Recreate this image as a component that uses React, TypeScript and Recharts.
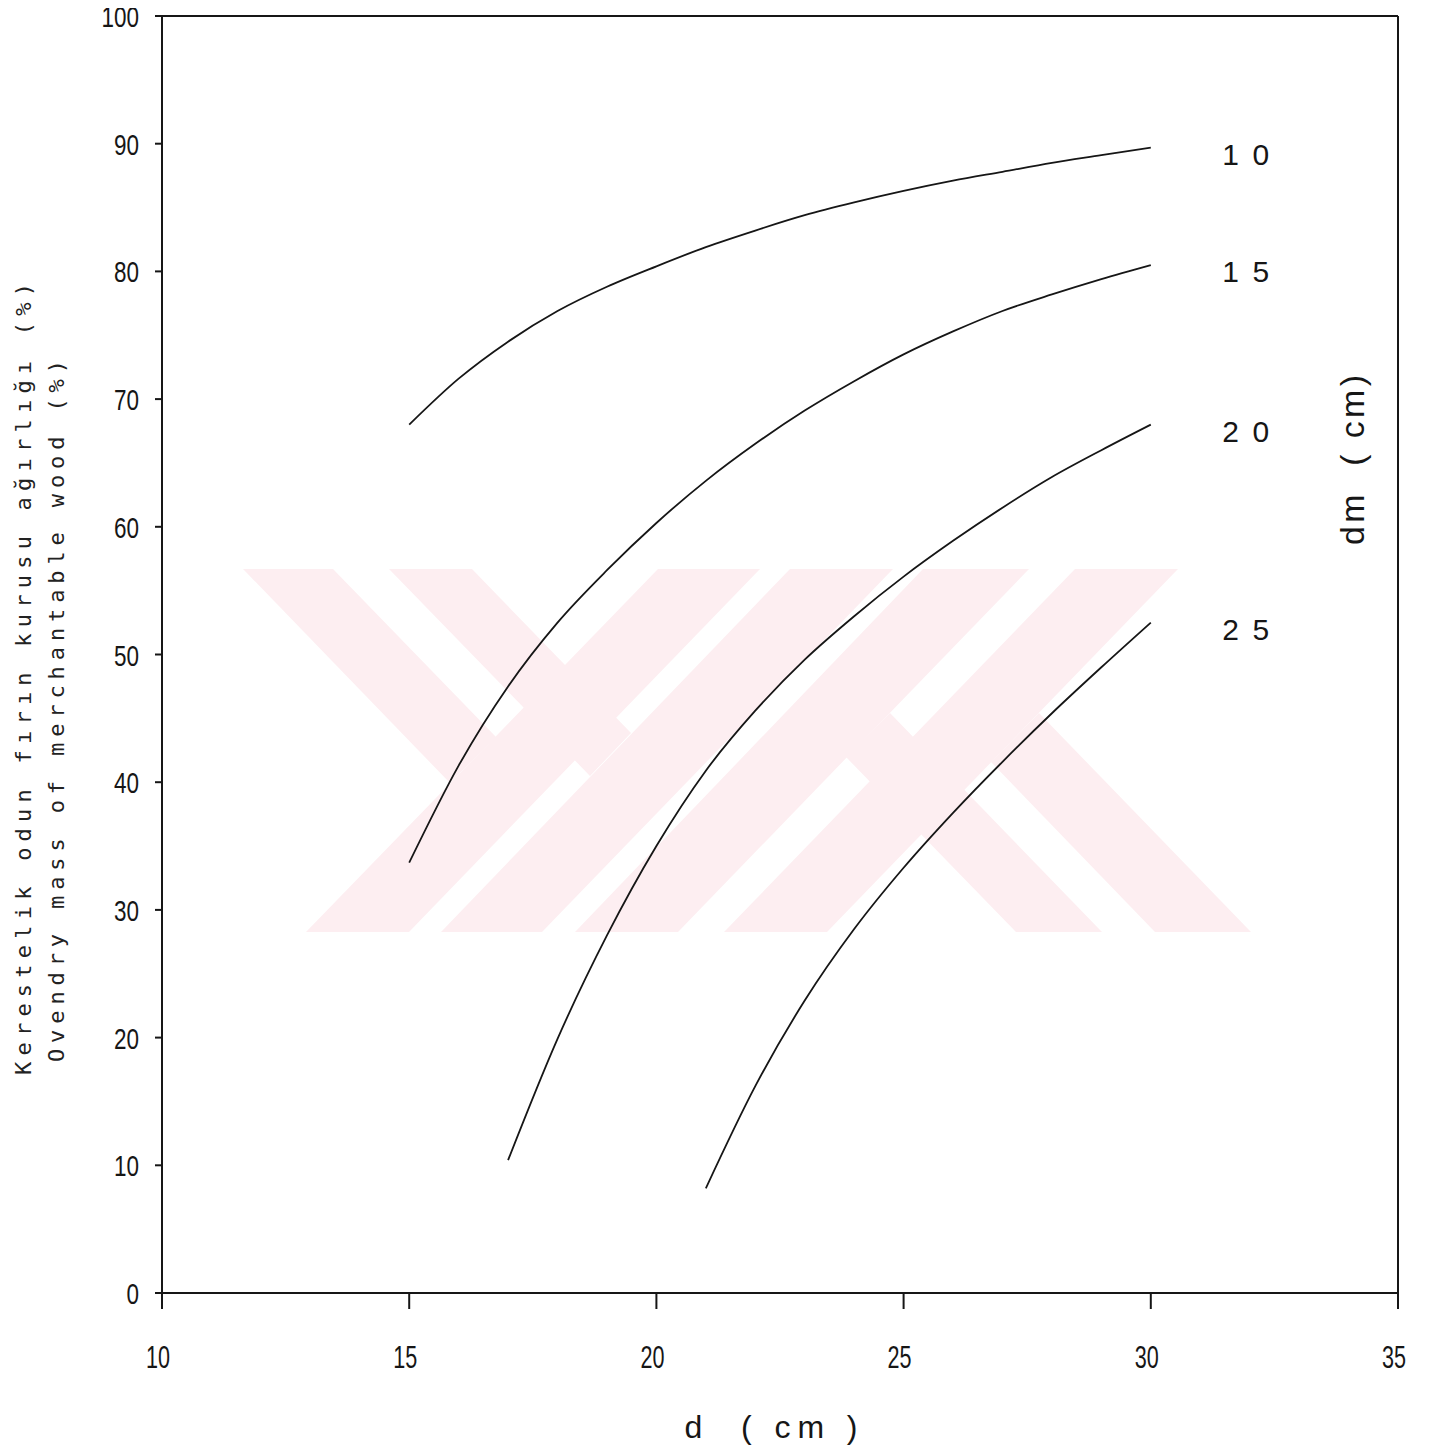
import { LineChart, Line, XAxis, YAxis, Label, LabelList } from 'recharts'

// dm (top diameter limit, cm) curves: oven-dry mass share (%) vs d (cm)
const dmNames = ['1 0', '1 5', '2 0', '2 5']

const d10 = [15, 16, 17, 18, 19, 20, 21, 22, 23, 24, 25, 26, 27, 28, 29, 30]
const mass10 = [68.0, 71.6, 74.5, 76.9, 78.8, 80.4, 81.9, 83.2, 84.4, 85.4, 86.3, 87.1, 87.8, 88.5, 89.1, 89.7]

const d15 = [15, 16, 17, 18, 19, 20, 21, 22, 23, 24, 25, 26, 27, 28, 29, 30]
const mass15 = [33.7, 41.3, 47.5, 52.5, 56.6, 60.3, 63.6, 66.5, 69.1, 71.4, 73.5, 75.3, 76.9, 78.2, 79.4, 80.5]

const d20 = [17, 18, 19, 20, 21, 22, 23, 24, 25, 26, 27, 28, 29, 30]
const mass20 = [10.4, 19.9, 28.0, 35.0, 40.9, 45.6, 49.6, 53.0, 56.1, 58.9, 61.5, 63.9, 66.0, 68.0]

const d25 = [21, 22, 23, 24, 25, 26, 27, 28, 29, 30]
const mass25 = [8.2, 16.2, 22.9, 28.5, 33.3, 37.6, 41.6, 45.4, 49.0, 52.5]

const xTicks = [10, 15, 20, 25, 30, 35]
const yTicks = [0, 10, 20, 30, 40, 50, 60, 70, 80, 90, 100]

const yTitle1 = 'Kerestelik odun fırın kurusu ağırlığı (%)'
const yTitle2 = 'Ovendry mass of merchantable wood (%)'
const xTitle = 'd  ( cm )'
const rightTitle = 'dm  ( cm)'

const zip = (xs: number[], ys: number[]) => xs.map((x, i) => ({ d: x, m: ys[i] }))

const series = [
  { name: dmNames[0], data: zip(d10, mass10) },
  { name: dmNames[1], data: zip(d15, mass15) },
  { name: dmNames[2], data: zip(d20, mass20) },
  { name: dmNames[3], data: zip(d25, mass25) },
]

const INK = '#161616'
const tickFont = '"Liberation Sans", Arial, sans-serif'

const XTick = ({ x, y, payload }: any) => {
  const s = String(payload.value)
  return (
    <text x={x - 4} y={y + 57} textAnchor="middle" fontFamily={tickFont} fontSize={31} fill={INK}
      textLength={s.length * 12} lengthAdjust="spacingAndGlyphs">
      {s}
    </text>
  )
}

const YTick = ({ x, y, payload }: any) => {
  const s = String(payload.value)
  return (
    <text x={x - 14} y={y + 11} textAnchor="end" fontFamily={tickFont} fontSize={30} fill={INK}
      textLength={s.length * 12.5} lengthAdjust="spacingAndGlyphs">
      {s}
    </text>
  )
}

const endLabel = (text: string, last: number) => (props: any) => {
  const { x, y, index } = props
  if (index !== last) return null
  return (
    <text x={x + 95} y={y + 17} textAnchor="middle" fontFamily={tickFont} fontSize={30} fill={INK}
      textLength={47} lengthAdjust="spacing">
      {text}
    </text>
  )
}

const LeftTitle = () => (
  <g fontFamily='"DejaVu Sans Mono", monospace' fontSize={22} fill="#222">
    <text transform="translate(31,1075) rotate(-90)" textLength={792} lengthAdjust="spacing">
      {yTitle1}
    </text>
    <text transform="translate(64,1062) rotate(-90)" textLength={702} lengthAdjust="spacing">
      {yTitle2}
    </text>
  </g>
)

const RightTitle = () => (
  <text transform="translate(1364,460) rotate(-90)" textAnchor="middle" fontFamily={tickFont}
    fontSize={34} fill={INK} textLength={170} lengthAdjust="spacing" style={{ whiteSpace: 'pre' }}>
    {rightTitle}
  </text>
)

const BottomTitle = () => (
  <text x={771} y={1438} textAnchor="middle" fontFamily={tickFont} fontSize={32} fill={INK}
    textLength={173} lengthAdjust="spacing" style={{ whiteSpace: 'pre' }}>
    {xTitle}
  </text>
)

// faint pink watermark behind the plot
const T = 569
const B = 932
const wm = [
  [[243, T], [333, T], [496, 737], [450, 783]],
  [[389, T], [472, T], [631, 733], [590, 776]],
  [[658, T], [760, T], [409, B], [306, B]],
  [[790, T], [893, T], [542, B], [441, B]],
  [[923, T], [1029, T], [678, B], [575, B]],
  [[1075, T], [1178, T], [827, B], [724, B]],
  [[846, 757], [890, 713], [1102, B], [1016, B]],
  [[991, 762], [1039, 713], [1251, B], [1155, B]],
]

export default function App() {
  return (
    <div style={{ position: 'relative', width: 1430, height: 1449, margin: '-8px 0 0 -8px', background: '#fff' }}>
      <svg width={1430} height={1449} style={{ position: 'absolute', left: 0, top: 0 }}>
        {wm.map((p, i) => (
          <polygon key={i} points={p.map((q) => q.join(',')).join(' ')} fill="#fdeef1" />
        ))}
      </svg>
      <div style={{ position: 'absolute', left: 0, top: 0 }}>
        <LineChart width={1430} height={1449} margin={{ top: 14, right: 31, bottom: 6, left: 0 }}>
          <XAxis xAxisId="b" type="number" dataKey="d" domain={[10, 35]} ticks={xTicks} interval={0}
            allowDataOverflow tickSize={16} height={150} stroke={INK} strokeWidth={2}
            tickLine={{ stroke: INK, strokeWidth: 2 }} tick={<XTick />}>
            <Label content={<BottomTitle />} />
          </XAxis>
          <XAxis xAxisId="t" orientation="top" type="number" dataKey="d" domain={[10, 35]} ticks={xTicks}
            tick={false} tickLine={false} height={2} stroke={INK} strokeWidth={2} />
          <YAxis yAxisId="l" type="number" domain={[0, 100]} ticks={yTicks} interval={0}
            tickSize={7} width={162} stroke={INK} strokeWidth={2}
            tickLine={{ stroke: INK, strokeWidth: 2 }} tick={<YTick />}>
            <Label content={<LeftTitle />} />
          </YAxis>
          <YAxis yAxisId="r" orientation="right" type="number" domain={[0, 100]}
            tick={false} tickLine={false} width={1} stroke={INK} strokeWidth={2}>
            <Label content={<RightTitle />} />
          </YAxis>
          {series.map((s) => (
            <Line key={s.name} xAxisId="b" yAxisId="l" data={s.data} dataKey="m" type="monotone"
              stroke={INK} strokeWidth={1.8} dot={false} activeDot={false} isAnimationActive={false}>
              <LabelList dataKey="m" content={endLabel(s.name, s.data.length - 1)} />
            </Line>
          ))}
        </LineChart>
      </div>
    </div>
  )
}
